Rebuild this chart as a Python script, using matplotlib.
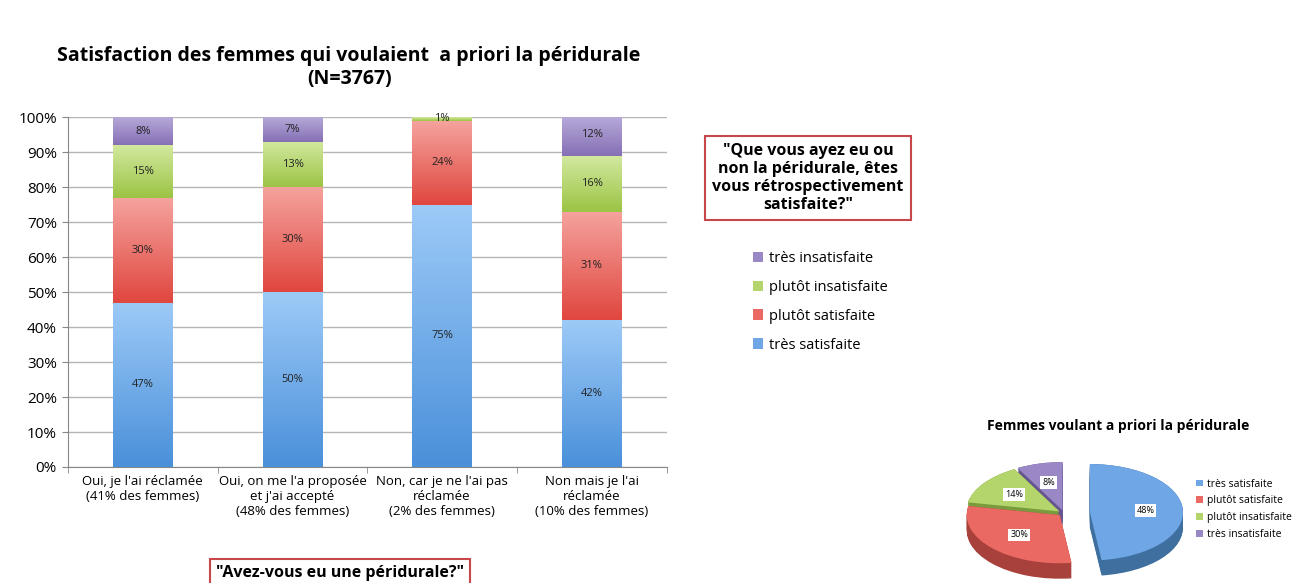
import numpy as np
import matplotlib
matplotlib.use("Agg")
import matplotlib.pyplot as plt
from matplotlib.patches import Patch
from matplotlib.colors import LinearSegmentedColormap

plt.rcParams['font.family'] = ['Open Sans', 'DejaVu Sans']

# Data
categories = ["Oui, je l'ai réclamée\n(41% des femmes)",
              "Oui, on me l'a proposée\net j'ai accepté\n(48% des femmes)",
              "Non, car je ne l'ai pas\nréclamée\n(2% des femmes)",
              "Non mais je l'ai\nréclamée\n(10% des femmes)"]
series_names = ["très satisfaite", "plutôt satisfaite", "plutôt insatisfaite", "très insatisfaite"]
tres_sat = [47, 50, 75, 42]
plutot_sat = [30, 30, 24, 31]
plutot_insat = [15, 13, 1, 16]
tres_insat = [8, 7, 0, 12]

pie_values = [48, 30, 14, 8]

colors = ["#6ea6e6", "#ea6a63", "#b3d56c", "#9a87c6"]
light_colors = ["#9ccaf7", "#f5a29d", "#d2e89e", "#b6a8d8"]
deep_colors = ["#4a90da", "#e0473f", "#9cc445", "#8570b5"]
dark_colors = ["#3e6f9e", "#a8403b", "#7a9a3e", "#66558e"]

fig = plt.figure(figsize=(12.93, 5.83), dpi=100)
fig.patch.set_facecolor("white")

# Main stacked bar chart
ax = fig.add_axes([0.0526, 0.199, 0.463, 0.600])
x = np.arange(len(categories))
series = [tres_sat, plutot_sat, plutot_insat, tres_insat]
bottom = np.zeros(len(categories))
grad = np.linspace(0, 1, 64).reshape(-1, 1)
for vals, col, lc, dc in zip(series, colors, light_colors, deep_colors):
    v = np.array(vals, dtype=float)
    bars = ax.bar(x, v / 100, bottom=bottom / 100, width=0.4, color=col, zorder=3)
    cmap = LinearSegmentedColormap.from_list("g", [dc, lc])
    for b in bars:
        bx, by = b.get_x(), b.get_y()
        bw, bh = b.get_width(), b.get_height()
        if bh <= 0:
            continue
        top = min(by + bh, 1.0)
        im = ax.imshow(grad, cmap=cmap, aspect="auto", origin="lower",
                       extent=(bx, bx + bw, by, top), zorder=3.5)
        im.set_clip_path(b)
    for xi, vi, bi in zip(x, v, bottom):
        if vi > 0:
            yc = min((bi + vi / 2) / 100, 0.995)
            ax.text(xi, yc, f"{int(vi)}%", ha="center", va="center",
                    fontsize=8, color="#222222", zorder=4)
    bottom += v

ax.set_xlim(-0.5, 3.5)
ax.set_ylim(0, 1)
ax.set_yticks(np.arange(0, 1.01, 0.1))
ax.set_yticklabels([f"{int(round(t * 100))}%" for t in np.arange(0, 1.01, 0.1)], fontsize=11)
ax.set_xticks(x)
ax.set_xticklabels(categories, fontsize=9.5)
ax.set_xticks(np.arange(-0.5, 4, 1), minor=True)
ax.tick_params(axis="x", which="major", length=0, pad=6)
ax.tick_params(axis="x", which="minor", length=4, color="#888888")
ax.tick_params(axis="y", length=4, color="#888888", pad=4)
ax.grid(axis="y", color="#b5b5b5", linewidth=1, zorder=0)
for s in ["top", "right"]:
    ax.spines[s].set_visible(False)
ax.spines["left"].set_color("#888888")
ax.spines["bottom"].set_color("#888888")

fig.text(0.270, 0.885, "Satisfaction des femmes qui voulaient  a priori la péridurale\n(N=3767)",
         ha="center", va="center", fontsize=14, fontweight="bold", linespacing=1.2)

# Question boxes
fig.text(0.625, 0.695, "\"Que vous ayez eu ou\nnon la péridurale, êtes\nvous rétrospectivement\nsatisfaite?\"",
         ha="center", va="center", fontsize=11.5, fontweight="bold", linespacing=1.15,
         bbox=dict(boxstyle="square,pad=0.45", facecolor="white", edgecolor="#c8474a", linewidth=1.5))
fig.text(0.263, 0.018, "\"Avez-vous eu une péridurale?\"",
         ha="center", va="center", fontsize=11.5, fontweight="bold",
         bbox=dict(boxstyle="square,pad=0.35", facecolor="white", edgecolor="#c8474a", linewidth=1.5))

# Legend for bars (reversed order)
handles = [Patch(facecolor=c, label=n) for c, n in zip(colors, series_names)][::-1]
fig.legend(handles=handles, loc="upper left", bbox_to_anchor=(0.572, 0.592), frameon=False,
           fontsize=10.5, handlelength=0.7, handleheight=0.7, handletextpad=0.4, labelspacing=0.95)

# Pie chart (pseudo 3D)
fig.text(0.865, 0.27, "Femmes voulant a priori la péridurale", ha="center", va="center",
         fontsize=10, fontweight="bold")
pax = fig.add_axes([0.740, 0.0, 0.180, 0.215])
explode = [0.28, 0.06, 0.06, 0.06]
for d in np.linspace(0.32, 0.0, 12):
    pax.pie(pie_values, colors=dark_colors, startangle=90, counterclock=False,
            explode=explode, center=(0, -d), wedgeprops=dict(linewidth=0))
wedges, _ = pax.pie(pie_values, colors=colors, startangle=90, counterclock=False,
                    explode=explode, wedgeprops=dict(linewidth=0))
for w, v, e in zip(wedges, pie_values, explode):
    ang = np.deg2rad((w.theta1 + w.theta2) / 2)
    r = 0.6 + e
    pax.text(r * np.cos(ang), r * np.sin(ang), f"{v}%", ha="center", va="center", fontsize=6.5,
             bbox=dict(boxstyle="square,pad=0.2", facecolor="white", edgecolor="none"))
pax.set_aspect("auto")
pax.set_xlim(-1.15, 1.35)
pax.set_ylim(-1.45, 1.15)
pax.axis("off")

pie_handles = [Patch(facecolor=c, label=n) for c, n in zip(colors, series_names)]
fig.legend(handles=pie_handles, loc="upper left", bbox_to_anchor=(0.918, 0.195), frameon=False,
           fontsize=7.5, handlelength=0.6, handleheight=0.6, handletextpad=0.4, labelspacing=0.55)

fig.savefig("out.png", dpi=100)
